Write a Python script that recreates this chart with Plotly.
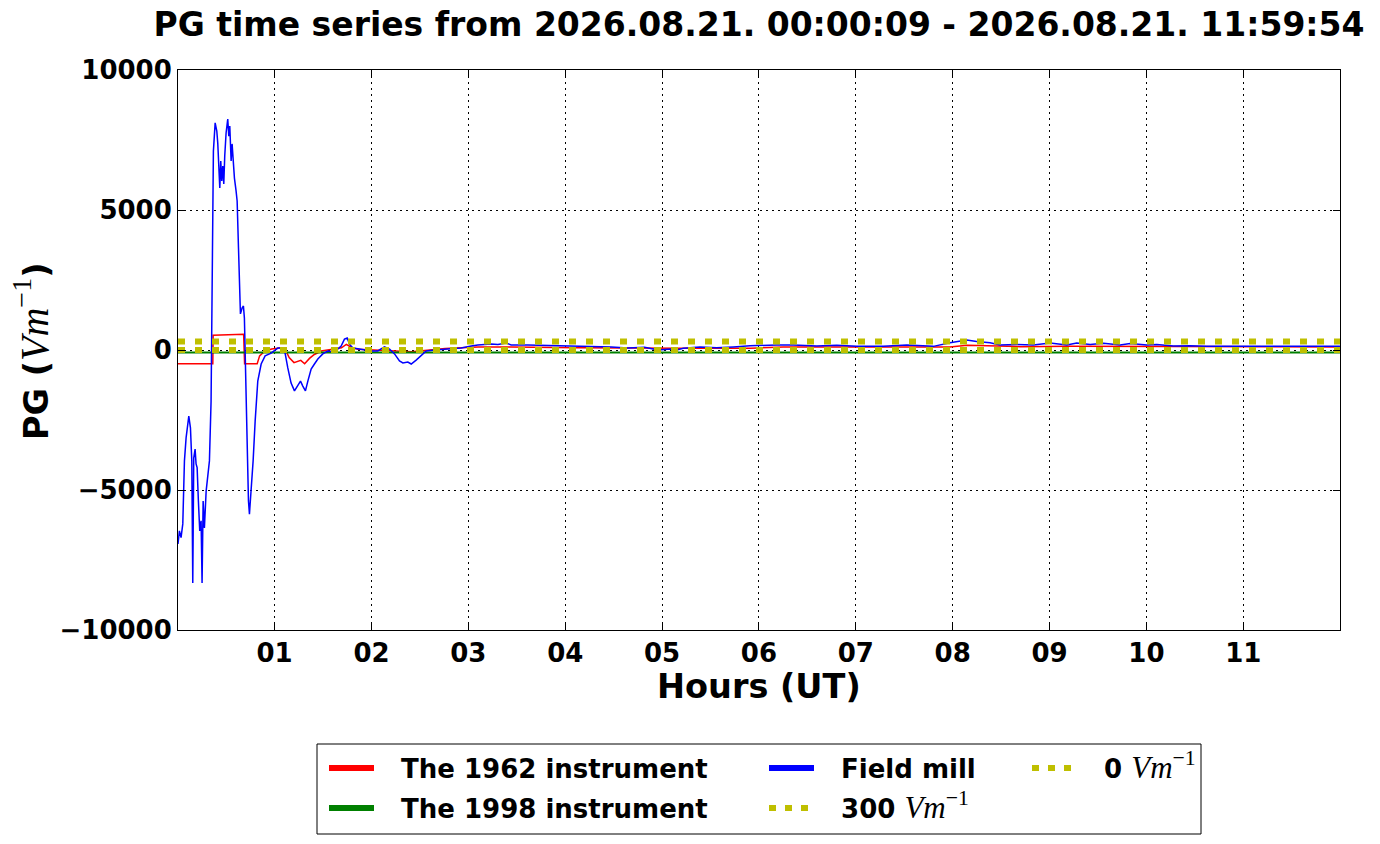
import plotly.graph_objects as go

# time is in hours since 00:00 UT, PG in V/m
t_1962 = [0.0025, 0.362, 0.365, 0.65, 0.68, 0.69, 0.82, 0.845, 0.90, 0.97, 1.07, 1.11,
          1.15, 1.20, 1.24, 1.27, 1.31, 1.36, 1.41, 1.48, 1.58, 1.69, 1.74, 1.79, 1.86,
          2.07, 2.24, 2.41, 2.55, 2.76, 3.10, 3.44, 4.13, 4.88, 5.20, 5.91, 6.25, 7.00,
          7.97, 8.15, 8.32, 8.70, 9.20, 9.80, 10.40, 11.00, 11.998]
pg_1962 = [-490, -490, 525, 540, 560, -490, -490, -210, -35, 35, 80, 20,
           -270, -450, -400, -370, -490, -300, -160, -35, 20, 80, 200, 100, 30,
           -10, -30, -60, -20, 50, 110, 110, 80, 50, 60, 60, 110, 110,
           110, 170, 150, 120, 130, 120, 120, 110, 110]

t_1998 = [0.0025, 3.0, 6.0, 9.0, 11.998]
pg_1998 = [-90, -90, -90, -90, -90]

t_mill = [0.0025, 0.017, 0.034, 0.052, 0.069, 0.086, 0.114, 0.131, 0.145, 0.155,
          0.165, 0.179, 0.189, 0.200, 0.213, 0.227, 0.241, 0.251, 0.262, 0.275,
          0.293, 0.310, 0.327, 0.344, 0.355, 0.368, 0.386, 0.403, 0.413, 0.423,
          0.434, 0.444, 0.454, 0.465, 0.475, 0.485, 0.499, 0.516, 0.527, 0.537,
          0.551, 0.561, 0.571, 0.585, 0.602, 0.613, 0.627, 0.637, 0.647, 0.664,
          0.678, 0.688, 0.699, 0.713, 0.730, 0.740, 0.757, 0.778, 0.799, 0.826,
          0.861, 0.902, 0.964, 1.033, 1.067, 1.108, 1.136, 1.170, 1.205, 1.239,
          1.267, 1.291, 1.318, 1.343, 1.377, 1.411, 1.446, 1.497, 1.549, 1.618,
          1.687, 1.721, 1.749, 1.773, 1.807, 1.876, 1.997, 2.065, 2.134, 2.186,
          2.238, 2.289, 2.324, 2.375, 2.410, 2.461, 2.513, 2.565, 2.651, 2.754,
          2.926, 3.029, 3.098, 3.236, 3.305, 3.391, 3.442, 3.614, 3.787, 4.131,
          4.475, 4.647, 4.819, 4.957, 5.095, 5.116, 5.219, 5.391, 5.563, 5.736,
          5.908, 6.183, 6.355, 6.596, 6.803, 7.009, 7.285, 7.526, 7.801, 7.973,
          8.145, 8.248, 8.386, 8.489, 8.661, 8.833, 9.006, 9.178, 9.281, 9.419,
          9.556, 9.729, 9.832, 10.004, 10.107, 10.279, 10.451, 10.624, 10.796, 11.037,
          11.312, 11.657, 11.998]
pg_mill = [-6930, -6460, -6700, -6210, -3960, -3140, -2360, -2780, -3960, -8320,
           -3860, -3540, -4070, -4200, -5390, -6460, -6100, -8320, -5390, -6360,
           -5040, -4570, -3960, -1820, 1750, 7110, 8110, 7820, 7390, 6500,
           5790, 6750, 6040, 6570, 5930, 6930, 7750, 8250, 7640, 8000,
           6750, 7360, 6750, 6140, 5680, 5320, 3640, 2710, 1290, 1500,
           1570, 1140, -640, -3000, -5390, -5860, -5140, -3960, -2540, -1110,
           -500, -210, -110, 70, 70, -110, -640, -1180, -1460, -1290,
           -1110, -1290, -1460, -1110, -680, -500, -320, -140, -40, -70,
           140, 390, 430, 210, 70, 35, -35, -35, 110, 35,
           -140, -390, -460, -430, -500, -360, -210, -35, 0, 35,
           70, 140, 180, 210, 200, 250, 180, 180, 170, 140,
           110, 70, 100, 0, 35, -35, 60, 110, 80, 110,
           150, 180, 180, 140, 170, 130, 130, 180, 130, 260,
           360, 300, 260, 180, 200, 180, 250, 180, 250, 200,
           240, 180, 230, 180, 200, 140, 150, 130, 140, 130,
           130, 130, 130]

ref_levels = [300, 0]
t_span = [9 / 3600, 11 + 59 / 60 + 54 / 3600]

x_ticks = list(range(1, 12))
x_ticktext = [f"{h:02d}" for h in x_ticks]
y_ticks = [-10000, -5000, 0, 5000, 10000]
y_ticktext = ["\u221210000", "\u22125000", "0", "5000", "10000"]

TITLE = "PG time series from 2026.08.21. 00:00:09 - 2026.08.21. 11:59:54"


def unit(size):
    return (f"<span style='font-family:Liberation Serif;font-weight:normal;font-size:{size}px'>"
            "<i>Vm</i><sup>\u22121</sup></span>")


FONT = "DejaVu Sans"
YELLOW = "#bfbf00"

# the page body has an 8px margin, so the figure is laid out 8px smaller
OFF = 8
W, H = 1380 - OFF, 844 - OFF
L, R, T, B = 178 - OFF, 40, 70 - OFF, H - (630 - OFF)
PW, PH = W - L - R, H - T - B


def px(x):  # page pixel -> paper x
    return (x - OFF - L) / PW


def py(y):  # page pixel -> paper y
    return (T + PH - (y - OFF)) / PH


fig = go.Figure()

# real data, drawn in the same order as the original
fig.add_trace(go.Scatter(x=t_1962, y=pg_1962, mode="lines", line=dict(color="#ff0000", width=1.5),
                         showlegend=False))
fig.add_trace(go.Scatter(x=t_1998, y=pg_1998, mode="lines", line=dict(color="#008000", width=2),
                         showlegend=False))
fig.add_trace(go.Scatter(x=t_mill, y=pg_mill, mode="lines", line=dict(color="#0000ff", width=1.5),
                         showlegend=False))
for lev in ref_levels:
    fig.add_trace(go.Scatter(x=t_span, y=[lev, lev], mode="lines",
                             line=dict(color=YELLOW, width=6, dash="7px,10px"),
                             showlegend=False))

# legend entries (thick handles like matplotlib), one legend per slot
PAD = "\u2002 "
entries = [
    ("The 1962 instrument", "#ff0000", "solid", "legend", 324, 768),
    ("The 1998 instrument", "#008000", "solid", "legend2", 324, 808),
    ("Field mill", "#0000ff", "solid", "legend3", 764, 768),
    ("300 " + unit(31), YELLOW, "7px,9px", "legend4", 764, 808),
    ("0 " + unit(31), YELLOW, "7px,9px", "legend5", 1027, 768),
]
legends = {}
for name, col, dash, lg, lx, ly in entries:
    fig.add_trace(go.Scatter(x=[None], y=[None], mode="lines", name=PAD + name, legend=lg,
                             line=dict(color=col, width=6, dash=dash)))
    legends[lg] = dict(
        x=px(lx), y=py(ly), xanchor="left", yanchor="middle",
        bgcolor="rgba(0,0,0,0)", itemwidth=45,
        font=dict(family=FONT, size=26, color="black", weight="bold"),
    )

fig.update_layout(
    width=W, height=H,
    margin=dict(l=L, r=R, t=T, b=B),
    paper_bgcolor="white", plot_bgcolor="white",
    font=dict(family=FONT, color="black"),
    title=dict(text=TITLE, xref="paper", x=0.5, xanchor="center", y=1 - (24 - OFF) / H, yanchor="middle",
               font=dict(family=FONT, size=33, color="black", weight="bold")),
    **legends,
    shapes=[dict(type="rect", xref="paper", yref="paper",
                 x0=px(317), x1=px(1201), y0=py(834), y1=py(744),
                 line=dict(color="black", width=1), fillcolor="rgba(0,0,0,0)")],
    annotations=[
        dict(text="Hours (UT)", xref="paper", yref="paper", x=0.5, y=py(686),
             xanchor="center", yanchor="middle", showarrow=False,
             font=dict(family=FONT, size=33.5, color="black", weight="bold")),
        dict(text="PG (" + unit(40) + ")", xref="paper", yref="paper", x=px(31), y=py(352),
             xanchor="center", yanchor="middle", showarrow=False, textangle=-90,
             font=dict(family=FONT, size=33.5, color="black", weight="bold")),
    ],
)

axis_common = dict(
    showline=True, linecolor="black", linewidth=1, mirror="ticks",
    ticks="inside", ticklen=7, tickcolor="black", tickwidth=1,
    showgrid=True, gridcolor="black", gridwidth=1, griddash="2px,4px",
    zeroline=False,
    tickfont=dict(family=FONT, size=26, color="black", weight="bold"),
)
fig.update_xaxes(range=t_span, tickmode="array", tickvals=x_ticks, ticktext=x_ticktext, **axis_common)
fig.update_yaxes(range=[-10000, 10000], tickmode="array", tickvals=y_ticks, ticktext=y_ticktext,
                 **axis_common)

fig.write_html("out.html")
